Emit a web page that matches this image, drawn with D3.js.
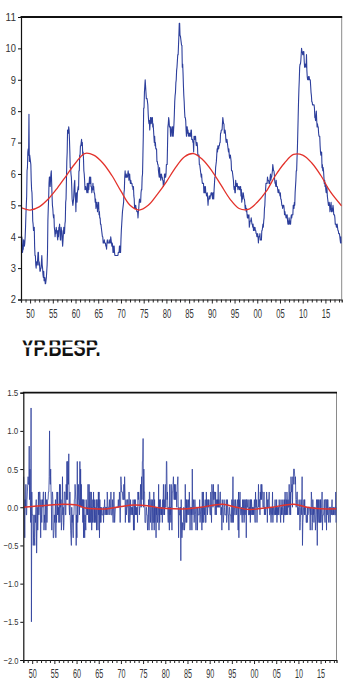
<!DOCTYPE html>
<html><head><meta charset="utf-8">
<script src="https://cdn.jsdelivr.net/npm/d3@7"></script>
<style>html,body{margin:0;padding:0;background:#fff;}svg{display:block;}</style>
</head><body>
<script>
// Monthly series (Jan 1948 onward), one row per year
const unrate = [
3.4,3.8,4.0,3.9,3.5,3.6,3.6,3.9,3.8,3.7,3.8,4.0,
4.3,4.7,5.0,5.3,6.1,6.2,6.7,6.8,6.6,7.9,6.4,6.6,
6.5,6.4,6.3,5.8,5.5,5.4,5.0,4.5,4.4,4.2,4.2,4.3,
3.7,3.4,3.4,3.1,3.0,3.2,3.1,3.1,3.3,3.5,3.5,3.1,
3.2,3.1,2.9,2.9,3.0,3.0,3.2,3.4,3.1,3.0,2.8,2.7,
2.9,2.6,2.6,2.7,2.5,2.5,2.6,2.7,2.9,3.1,3.5,4.5,
4.9,5.2,5.7,5.9,5.9,5.6,5.8,6.0,6.1,5.7,5.3,5.0,
4.9,4.7,4.6,4.7,4.3,4.2,4.0,4.2,4.1,4.3,4.2,4.2,
4.0,3.9,4.2,4.0,4.3,4.3,4.4,4.1,3.9,3.9,4.3,4.2,
4.2,3.9,3.7,3.9,4.1,4.3,4.2,4.1,4.4,4.5,5.1,5.2,
5.8,6.4,6.7,7.4,7.4,7.3,7.5,7.4,7.1,6.7,6.2,6.2,
6.0,5.9,5.6,5.2,5.1,5.0,5.1,5.2,5.5,5.7,5.8,5.3,
5.2,4.8,5.4,5.2,5.1,5.4,5.5,5.6,5.5,6.1,6.1,6.6,
6.6,6.9,6.9,7.0,7.1,6.9,7.0,6.6,6.7,6.5,6.1,6.0,
5.8,5.5,5.6,5.6,5.5,5.5,5.4,5.7,5.6,5.4,5.7,5.5,
5.7,5.9,5.7,5.7,5.9,5.6,5.6,5.4,5.5,5.5,5.7,5.5,
5.6,5.4,5.4,5.3,5.1,5.2,4.9,5.0,5.1,5.1,4.8,5.0,
4.9,5.1,4.7,4.8,4.6,4.6,4.4,4.4,4.3,4.2,4.1,4.0,
4.0,3.8,3.8,3.8,3.9,3.8,3.8,3.8,3.7,3.7,3.6,3.8,
3.9,3.8,3.8,3.8,3.8,3.9,3.8,3.8,3.8,4.0,3.9,3.8,
3.7,3.8,3.7,3.5,3.5,3.7,3.7,3.5,3.4,3.4,3.4,3.4,
3.4,3.4,3.4,3.4,3.4,3.5,3.5,3.5,3.7,3.7,3.5,3.5,
3.9,4.2,4.4,4.6,4.8,4.9,5.0,5.1,5.4,5.5,5.9,6.1,
5.9,5.9,6.0,5.9,5.9,5.9,6.0,6.1,6.0,5.8,6.0,6.0,
5.8,5.7,5.8,5.7,5.7,5.7,5.6,5.6,5.5,5.6,5.3,5.2,
4.9,5.0,4.9,5.0,4.9,4.9,4.8,4.8,4.8,4.6,4.8,4.9,
5.1,5.2,5.1,5.1,5.1,5.4,5.5,5.5,5.9,6.0,6.6,7.2,
8.1,8.1,8.6,8.8,9.0,8.8,8.6,8.4,8.4,8.4,8.3,8.2,
7.9,7.7,7.6,7.7,7.4,7.6,7.8,7.8,7.6,7.7,7.8,7.8,
7.5,7.6,7.4,7.2,7.0,7.2,6.9,7.0,6.8,6.8,6.8,6.4,
6.4,6.3,6.3,6.1,6.0,5.9,6.2,5.9,6.0,5.8,5.9,6.0,
5.9,5.9,5.8,5.8,5.6,5.7,5.7,6.0,5.9,6.0,5.9,6.0,
6.3,6.3,6.3,6.9,7.5,7.6,7.8,7.7,7.5,7.5,7.5,7.2,
7.5,7.4,7.4,7.2,7.5,7.5,7.2,7.4,7.6,7.9,8.3,8.5,
8.6,8.9,9.0,9.3,9.4,9.6,9.8,9.8,10.1,10.4,10.8,10.8,
10.4,10.4,10.3,10.2,10.1,10.1,9.4,9.5,9.2,8.8,8.5,8.3,
8.0,7.8,7.8,7.7,7.4,7.2,7.5,7.5,7.3,7.4,7.2,7.3,
7.3,7.2,7.2,7.3,7.2,7.4,7.4,7.1,7.1,7.1,7.0,7.0,
6.7,7.2,7.2,7.1,7.2,7.2,7.0,6.9,7.0,7.0,6.9,6.6,
6.6,6.6,6.6,6.3,6.3,6.2,6.1,6.0,5.9,6.0,5.8,5.7,
5.7,5.7,5.7,5.4,5.6,5.4,5.4,5.6,5.4,5.4,5.3,5.3,
5.4,5.2,5.0,5.2,5.2,5.3,5.2,5.2,5.3,5.3,5.4,5.4,
5.4,5.3,5.2,5.4,5.4,5.2,5.5,5.7,5.9,5.9,6.2,6.3,
6.4,6.6,6.8,6.7,6.9,6.9,6.8,6.9,6.9,7.0,7.0,7.3,
7.3,7.4,7.4,7.4,7.6,7.8,7.7,7.6,7.6,7.3,7.4,7.4,
7.3,7.1,7.0,7.1,7.1,7.0,6.9,6.8,6.7,6.8,6.6,6.5,
6.6,6.6,6.5,6.4,6.1,6.1,6.1,6.0,5.9,5.8,5.6,5.5,
5.6,5.4,5.4,5.8,5.6,5.6,5.7,5.7,5.6,5.5,5.6,5.6,
5.6,5.5,5.5,5.6,5.6,5.3,5.5,5.1,5.2,5.2,5.4,5.4,
5.3,5.2,5.2,5.1,4.9,5.0,4.9,4.8,4.9,4.7,4.6,4.7,
4.6,4.6,4.7,4.3,4.4,4.5,4.5,4.5,4.6,4.5,4.4,4.4,
4.3,4.4,4.2,4.3,4.2,4.3,4.3,4.2,4.2,4.1,4.1,4.0,
4.0,4.1,4.0,3.8,4.0,4.0,4.0,4.1,3.9,3.9,3.9,3.9,
4.2,4.2,4.3,4.4,4.3,4.5,4.6,4.9,5.0,5.3,5.5,5.7,
5.7,5.7,5.7,5.9,5.8,5.8,5.8,5.7,5.7,5.7,5.9,6.0,
5.8,5.9,5.9,6.0,6.1,6.3,6.2,6.1,6.1,6.0,5.8,5.7,
5.7,5.6,5.8,5.6,5.6,5.6,5.5,5.4,5.4,5.5,5.4,5.4,
5.3,5.4,5.2,5.2,5.1,5.0,5.0,4.9,5.0,5.0,5.0,4.9,
4.7,4.8,4.7,4.7,4.6,4.6,4.7,4.7,4.5,4.4,4.5,4.4,
4.6,4.5,4.4,4.5,4.4,4.6,4.7,4.6,4.7,4.7,4.7,5.0,
5.0,4.9,5.1,5.0,5.4,5.6,5.8,6.1,6.1,6.5,6.8,7.3,
7.8,8.3,8.7,9.0,9.4,9.5,9.5,9.6,9.8,10.0,9.9,9.9,
9.8,9.8,9.9,9.9,9.6,9.4,9.4,9.5,9.5,9.4,9.8,9.3,
9.1,9.0,9.0,9.1,9.0,9.1,9.0,9.0,9.0,8.8,8.6,8.5,
8.3,8.3,8.2,8.2,8.2,8.2,8.2,8.1,7.8,7.8,7.7,7.9,
8.0,7.7,7.5,7.6,7.5,7.5,7.3,7.2,7.2,7.2,6.9,6.7,
6.6,6.7,6.7,6.2,6.3,6.1,6.2,6.1,5.9,5.7,5.8,5.6,
5.7,5.5,5.4,5.4,5.6,5.3,5.2,5.1,5.0,5.0,5.1,5.0,
4.8,4.9,5.0,5.1,4.8,4.9,4.8,4.9,5.0,4.9,4.7,4.7,
4.7,4.6,4.4,4.4,4.4,4.3,4.3,4.4,4.3,4.2,4.2,4.1,
4.1,4.1,4.0,3.9,3.8,4.0,3.8,3.8
];
const startYear = 1948;

// Red smooth curve in the top panel (year, value)
const cycleYears = [1948,1950,1952,1954,1956,1958,1960,1962,1964,1966,1968,1970,1972,1974,1976,1978,1980,1982,1984,1986,1988,1990,1992,1994,1996,1998,2000,2002,2004,2006,2008,2010,2012,2014,2016,2018.58];
const cycleValues = [4.93,4.85,4.95,5.2,5.55,5.95,6.35,6.65,6.6,6.35,5.95,5.45,5.0,4.85,5.0,5.35,5.75,6.2,6.55,6.65,6.45,6.1,5.65,5.2,4.9,4.87,5.1,5.45,5.95,6.35,6.62,6.6,6.35,5.95,5.45,4.98];

// Red smooth curve in the bottom panel
const dCycleYears = [1948,1950,1954,1957,1960,1962,1964,1967,1970,1973,1976,1979,1982,1985,1988,1991,1993,1996,1999,2001,2004,2007,2009,2012,2015,2018.58];
const dCycleValues = [0.0,0.01,0.03,0.04,0.03,-0.01,-0.02,-0.02,0.01,0.03,0.02,-0.01,-0.02,-0.02,0.0,0.03,0.04,0.0,-0.03,-0.02,0.0,0.03,0.04,0.0,-0.02,-0.02];

const topTicks = [2,3,4,5,6,7,8,9,10,11];
const botTicks = [-2.0,-1.5,-1.0,-0.5,0.0,0.5,1.0,1.5];
const xLabelYears = [1950,1955,1960,1965,1970,1975,1980,1985,1990,1995,2000,2005,2010,2015];
const titleText = "YP.BESP.";

// first differences of the monthly series (what the lower panel plots)
const dUnrate = unrate.slice(1).map((v, i) => Math.round((v - unrate[i]) * 10) / 10);

const W = 349, H = 685;
const svg = d3.select("body").append("svg").attr("width", W).attr("height", H);
const BLUE = "#2d3f9c", RED = "#e3322b";
const xEnd = startYear + (unrate.length - 1) / 12;
const fontNarrow = "'Liberation Sans Narrow','Arial Narrow','Liberation Sans',Arial,sans-serif";

function panel(cfg) {
  const x = d3.scaleLinear().domain([startYear, xEnd]).range([cfg.left, cfg.right]);
  const y = d3.scaleLinear().domain(cfg.ydom).range([cfg.bottom, cfg.top]);
  const g = svg.append("g");
  g.append("line").attr("x1", cfg.right).attr("x2", cfg.right).attr("y1", cfg.top).attr("y2", cfg.bottom)
    .attr("stroke", "#8a8a8a").attr("stroke-width", 1);
  const clipId = "clip" + cfg.id;
  svg.append("clipPath").attr("id", clipId).append("rect")
    .attr("x", cfg.left).attr("y", cfg.top).attr("width", cfg.right - cfg.left).attr("height", cfg.bottom - cfg.top);
  const pg = g.append("g").attr("clip-path", `url(#${clipId})`);
  pg.append("path").datum(cfg.series)
    .attr("fill", "none").attr("stroke", BLUE).attr("stroke-width", cfg.lw).attr("stroke-linejoin", "round")
    .attr("d", d3.line().x(d => x(d[0])).y(d => y(d[1])));
  pg.append("path").datum(cfg.red)
    .attr("fill", "none").attr("stroke", RED).attr("stroke-width", cfg.rw)
    .attr("d", d3.line().x(d => x(d[0])).y(d => y(d[1])).curve(d3.curveCatmullRom));
  g.append("line").attr("x1", cfg.left - 0.5).attr("x2", cfg.right + 0.5).attr("y1", cfg.top).attr("y2", cfg.top)
    .attr("stroke", "#111").attr("stroke-width", 1.8);

  const ya = d3.axisLeft(y).tickValues(cfg.yticks).tickSize(3).tickFormat(cfg.yfmt);
  const yg = g.append("g").attr("transform", `translate(${cfg.left},0)`).call(ya);
  yg.select(".domain").attr("stroke", "#111").attr("stroke-width", 1.2);
  yg.selectAll(".tick line").attr("stroke", "#111");
  yg.selectAll(".tick text").attr("font-family", "'Liberation Sans',Arial,sans-serif")
    .attr("font-size", cfg.yfs).attr("fill", "#333").attr("x", -5)
    .attr("textLength", d => cfg.yfmt(d).length * cfg.ycw).attr("lengthAdjust", "spacingAndGlyphs");

  const years = d3.range(1948, 2019);
  const xa = d3.axisBottom(x).tickValues(years).tickSize(3)
    .tickFormat(d => xLabelYears.includes(d) ? String(d).slice(2) : "");
  const xg = g.append("g").attr("transform", `translate(0,${cfg.bottom})`).call(xa);
  xg.select(".domain").attr("stroke", "#111").attr("stroke-width", 1.2);
  xg.selectAll(".tick line").attr("stroke", "#222").attr("y2", d => xLabelYears.includes(d) ? 4 : 3);
  xg.selectAll(".tick text").attr("font-family", fontNarrow).attr("font-size", cfg.xfs).attr("fill", "#333")
    .attr("y", cfg.xly).attr("dy", 0)
    .attr("textLength", d => xLabelYears.includes(d) ? cfg.xtw : null).attr("lengthAdjust", "spacingAndGlyphs");
}

panel({
  id: "top", left: 21, right: 341.7, top: 17, bottom: 299.5, ydom: [2, 11],
  series: unrate.map((v, i) => [startYear + i / 12, v]),
  red: cycleYears.map((yr, i) => [yr, cycleValues[i]]),
  yticks: topTicks, yfmt: d3.format("d"), yfs: 10.5, ycw: 5.2, lw: 1.1, rw: 1.3,
  xfs: 12.5, xly: 18, xtw: 8.5
});

panel({
  id: "bot", left: 23.3, right: 336.5, top: 392.7, bottom: 660, ydom: [-2, 1.5],
  series: dUnrate.map((v, i) => [startYear + (i + 1) / 12, v]),
  red: dCycleYears.map((yr, i) => [yr, dCycleValues[i]]),
  yticks: botTicks, yfmt: d3.format(".1f"), yfs: 9.5, ycw: 3.7, lw: 0.8, rw: 1.5,
  xfs: 12, xly: 17.5, xtw: 8
});

// partially hidden caption between the panels (top of the letters cut off)
svg.append("clipPath").attr("id", "titleClip").append("rect").attr("x", 0).attr("y", 340.5).attr("width", W).attr("height", 20);
const tg = svg.append("g").attr("clip-path", "url(#titleClip)");
tg.append("text").attr("x", 21.5).attr("y", 356).text(titleText)
  .attr("font-family", "'Liberation Sans',Arial,sans-serif").attr("font-weight", "bold").attr("font-size", 23)
  .attr("fill", "#111").attr("textLength", 79).attr("lengthAdjust", "spacingAndGlyphs");
svg.append("rect").attr("x", 0).attr("y", 345.3).attr("width", 120).attr("height", 2.2).attr("fill", "#fff");
</script>
</body></html>
